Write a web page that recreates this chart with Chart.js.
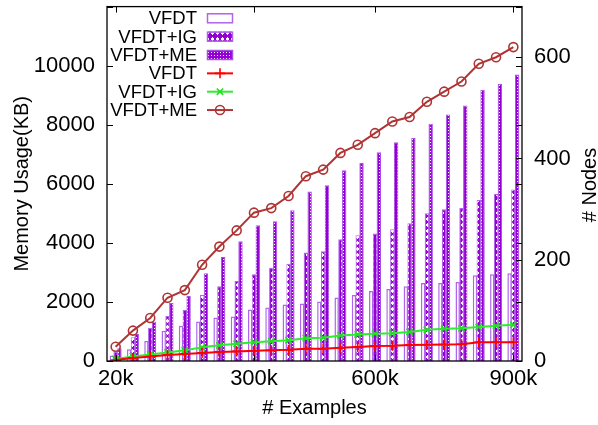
<!DOCTYPE html>
<html><head><meta charset="utf-8">
<script src="https://cdn.jsdelivr.net/npm/chart.js@4/dist/chart.umd.min.js"></script>
<style>html,body{margin:0;padding:0;background:#fff;}#wrap{width:598px;height:425px;}</style>
</head><body><div id="wrap"><canvas id="c" width="598" height="425"></canvas></div>
<script>
// ---- data ----
const xLabels = ['20k','','','','','','','','300k','','','','','','','600k','','','','','','','','900k'];
const memVFDT = [190, 395, 676, 1025, 1195, 1340, 1470, 1505, 1748, 1815, 1917, 1950, 2018, 2153, 2231, 2366, 2434, 2535, 2637, 2637, 2671, 2907, 2941, 2975];
const memIG   = [320, 800, 1127, 1521, 1724, 2231, 2535, 2705, 2941, 3155, 3290, 3675, 3719, 4124, 4260, 4317, 4462, 4665, 5003, 5139, 5183, 5453, 5656, 5805];
const memME   = [430, 913, 1330, 1961, 2197, 2970, 3525, 4057, 4598, 4733, 5105, 5740, 5950, 6457, 6704, 7066, 7410, 7549, 8030, 8350, 8654, 9185, 9388, 9703];
const nodesVFDT = [2, 6, 9, 12, 14, 16, 18, 19, 20, 21, 22, 24, 24, 26, 27.5, 29.5, 30, 31.5, 32, 32.5, 33, 37, 37, 37];
const nodesIG   = [4, 9, 13, 17, 21, 27, 31, 34, 37, 39, 41, 45, 46, 50.5, 52.5, 54, 55, 57.5, 61.5, 63.5, 64.5, 67, 69.5, 71.5];
const nodesME   = [28, 60, 85, 125, 140, 190, 226, 258, 293, 302, 326, 365, 378, 411, 427, 450, 473, 482, 512, 532, 552, 587, 600, 620];
const seriesNames = ['VFDT', 'VFDT+IG', 'VFDT+ME'];
const leftTitle = 'Memory Usage(KB)';
const rightTitle = '# Nodes';
const bottomTitle = '# Examples';

const FONT = "'Liberation Sans', Arial, Helvetica, sans-serif";
const PURPLE = '#9400d3';
const canvas = document.getElementById('c');
const ctx = canvas.getContext('2d');

function makePattern(kind) {
  const c = document.createElement('canvas');
  const g = c.getContext('2d');
  if (kind === 'ig') {
    c.width = 5; c.height = 6;
    g.fillStyle = PURPLE; g.fillRect(0, 0, 5, 6);
    g.fillStyle = '#ffffff';
    g.fillRect(2, 1, 1, 1); g.fillRect(1, 2, 3, 2); g.fillRect(2, 4, 1, 1);
  } else {
    c.width = 3; c.height = 3;
    g.fillStyle = PURPLE; g.fillRect(0, 0, 3, 3);
    g.fillStyle = '#ffffff'; g.fillRect(1, 1, 1, 1);
  }
  return ctx.createPattern(c, 'repeat');
}
const patIG = makePattern('ig');
const patME = makePattern('me');

const barCommon = { type: 'bar', yAxisID: 'y', order: 2, categoryPercentage: 0.66, barPercentage: 1.15, borderSkipped: 'bottom' };
const lineCommon = { type: 'line', yAxisID: 'y1', order: 1, borderWidth: 2, pointRadius: 4, pointBorderWidth: 1.6, pointBackgroundColor: 'rgba(0,0,0,0)', tension: 0, fill: false };

const datasets = [
  Object.assign({}, barCommon, { label: seriesNames[0], data: memVFDT, backgroundColor: '#ffffff', borderColor: '#b064ea', borderWidth: 1.5 }),
  Object.assign({}, barCommon, { label: seriesNames[1], data: memIG, backgroundColor: patIG, borderColor: '#b064ea', borderWidth: 1 }),
  Object.assign({}, barCommon, { label: seriesNames[2], data: memME, backgroundColor: patME, borderColor: '#a850e4', borderWidth: 1 }),
  Object.assign({}, lineCommon, { label: seriesNames[0], data: nodesVFDT, borderColor: '#ff0000', pointBorderColor: '#ff0000', pointStyle: 'cross', pointRadius: 5 }),
  Object.assign({}, lineCommon, { label: seriesNames[1], data: nodesIG, borderColor: '#2cee2c', pointBorderColor: '#22dd22', pointStyle: 'crossRot', pointRadius: 4.5 }),
  Object.assign({}, lineCommon, { label: seriesNames[2], data: nodesME, borderColor: '#b03434', pointBorderColor: '#b03434', pointStyle: 'circle', pointRadius: 4.5 })
];

const decor = {
  id: 'decor',
  afterDraw(chart) {
    const c = chart.ctx;
    const a = chart.chartArea;
    const sx = chart.scales.x, sy = chart.scales.y, sy1 = chart.scales.y1;
    c.save();
    // frame
    c.strokeStyle = '#000'; c.lineWidth = 1.3;
    c.strokeRect(a.left, a.top, a.right - a.left, a.bottom - a.top);
    // inward ticks
    c.lineWidth = 1;
    c.beginPath();
    sy.ticks.forEach(t => {
      const y = Math.round(sy.getPixelForValue(t.value)) + 0.5;
      c.moveTo(a.left, y); c.lineTo(a.left + 6, y);
      c.moveTo(a.right, y); c.lineTo(a.right - 6, y);
    });
    sy1.ticks.forEach(t => {
      const y = Math.round(sy1.getPixelForValue(t.value)) + 0.5;
      c.moveTo(a.right, y); c.lineTo(a.right - 6, y);
    });
    xLabels.forEach((l, i) => {
      if (!l) return;
      const x = Math.round(sx.getPixelForValue(i)) + 0.5;
      c.moveTo(x, a.bottom); c.lineTo(x, a.bottom - 6);
      c.moveTo(x, a.top); c.lineTo(x, a.top + 6);
    });
    c.stroke();

    // right axis title (reads bottom to top)
    c.fillStyle = '#000';
    c.font = '20px ' + FONT;
    c.textAlign = 'center'; c.textBaseline = 'middle';
    c.save();
    c.translate(590, 185);
    c.rotate(-Math.PI / 2);
    c.fillText(rightTitle, 0, 0);
    c.restore();

    // legend
    const rowY0 = 18.3, rowStep = 18.35;
    const txtX = 197, sx0 = 207, sx1 = 233;
    c.font = '18.5px ' + FONT;
    c.textAlign = 'right'; c.textBaseline = 'middle';
    chart.data.datasets.forEach((ds, i) => {
      const y = rowY0 + i * rowStep;
      c.fillStyle = '#000';
      c.fillText(ds.label, txtX, y + 1);
      if (ds.type === 'bar') {
        c.fillStyle = ds.backgroundColor;
        c.fillRect(sx0, y - 5, sx1 - sx0, 10);
        c.strokeStyle = ds.borderColor; c.lineWidth = 1.5;
        c.strokeRect(sx0 + 0.5, y - 4.5, sx1 - sx0 - 1, 9);
      } else {
        c.strokeStyle = ds.borderColor; c.lineWidth = 2;
        c.beginPath(); c.moveTo(sx0, y); c.lineTo(sx1, y); c.stroke();
        c.lineWidth = ds.pointBorderWidth;
        c.strokeStyle = ds.pointBorderColor; c.fillStyle = 'rgba(0,0,0,0)';
        Chart.helpers.drawPoint(c, { pointStyle: ds.pointStyle, radius: ds.pointRadius, borderWidth: ds.pointBorderWidth, rotation: 0 }, (sx0 + sx1) / 2, y);
      }
    });
    c.restore();
  }
};

new Chart(canvas, {
  data: { labels: xLabels, datasets },
  options: {
    responsive: false, animation: false, devicePixelRatio: 1,
    layout: { padding: { top: 6, left: 0, right: 0, bottom: 0 } },
    plugins: { legend: { display: false }, tooltip: { enabled: false } },
    scales: {
      x: {
        grid: { display: false, drawTicks: false },
        border: { display: false },
        ticks: { autoSkip: false, maxRotation: 0, minRotation: 0, padding: 5, color: '#000', font: { family: FONT, size: 22 } },
        title: { display: true, text: bottomTitle, color: '#000', font: { family: FONT, size: 20 }, padding: { top: 0, bottom: 5 } },
        afterFit(s) { s.height = 64; s.paddingLeft = 0; s.paddingRight = 0; }
      },
      y: {
        position: 'left', min: 0, max: 12000,
        grid: { display: false, drawTicks: false },
        border: { display: false },
        ticks: { stepSize: 2000, padding: 12, color: '#000', font: { family: FONT, size: 22 },
          callback: v => (v > 10000 ? '' : String(v)) },
        title: { display: true, text: leftTitle, color: '#000', font: { family: FONT, size: 20 }, padding: { top: 10, bottom: 0 } },
        afterFit(s) { s.width = 107; s.paddingTop = 0; s.paddingBottom = 0; }
      },
      y1: {
        position: 'right', min: 0, max: 700,
        grid: { display: false, drawTicks: false },
        border: { display: false },
        ticks: { stepSize: 200, padding: 12, color: '#000', font: { family: FONT, size: 22 },
          callback: v => (v > 600 ? '' : String(v)) },
        afterFit(s) { s.width = 76; s.paddingTop = 0; s.paddingBottom = 0; }
      }
    }
  },
  plugins: [decor]
});
</script>
</body></html>
